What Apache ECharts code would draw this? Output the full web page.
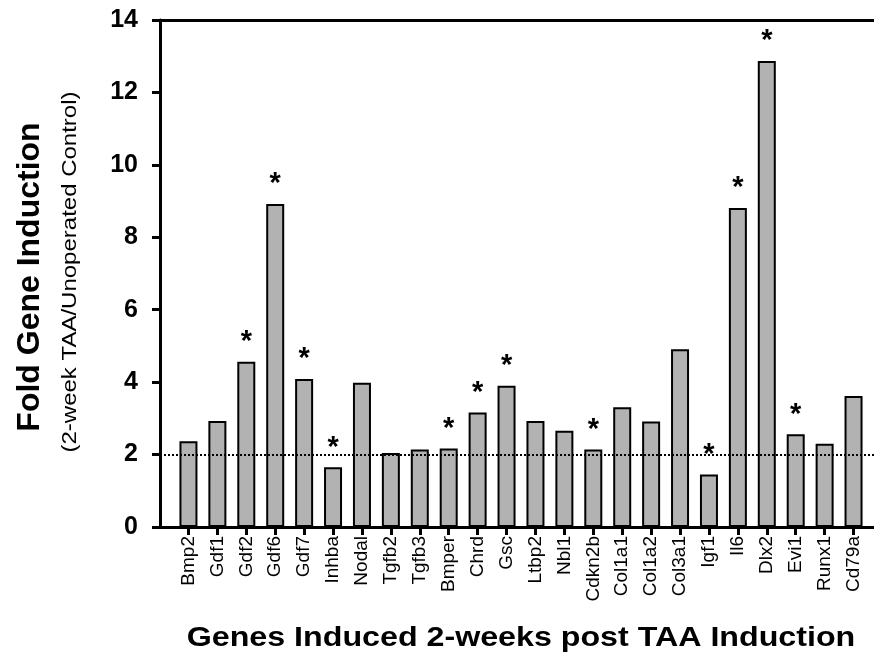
<!DOCTYPE html>
<html>
<head>
<meta charset="utf-8">
<script src="https://cdn.jsdelivr.net/npm/echarts@6/dist/echarts.min.js"></script>
<style>
  html, body { margin: 0; padding: 0; background: #fff; }
  #chart { width: 874px; height: 658px; }
</style>
</head>
<body>
<div id="chart"></div>
<script>
// genes on the x axis
const genes = ["Bmp2", "Gdf1", "Gdf2", "Gdf6", "Gdf7", "Inhba", "Nodal", "Tgfb2", "Tgfb3", "Bmper",
    "Chrd", "Gsc", "Ltbp2", "Nbl1", "Cdkn2b", "Col1a1", "Col1a2", "Col3a1", "Igf1", "Il6",
    "Dlx2", "Evi1", "Runx1", "Cd79a"];
// fold induction
const foldValues = [2.37, 2.93, 4.56, 8.92, 4.09, 1.65, 3.98, 2.04, 2.14, 2.17,
    3.16, 3.90, 2.93, 2.66, 2.14, 3.31, 2.91, 4.91, 1.45, 8.81,
    12.87, 2.56, 2.30, 3.62];
// genes marked with an asterisk
const sigGenes = ["Gdf2", "Gdf6", "Gdf7", "Inhba", "Bmper", "Chrd", "Gsc", "Cdkn2b", "Igf1", "Il6", "Dlx2", "Evi1"];
// y axis ticks
const yTicks = [0, 2, 4, 6, 8, 10, 12, 14];
const baseline = 2;

const font = "'Liberation Sans', Arial, sans-serif";
const yMin = yTicks[0], yMax = yTicks[yTicks.length - 1];

(function () {
    let myChart = echarts.init(document.getElementById('chart'));
    let option = {
        animation: false,
        grid: [
            // 0: bars (categories leave some room by the y axis)
            { left: 174, right: 6, top: 20, bottom: 131 },
            // 1: frame, y axis and dotted line
            { left: 160, right: 0, top: 20, bottom: 131 }
        ],
        xAxis: [{
            type: 'category',
            gridIndex: 0,
            data: genes,
            axisLine: { show: false },
            axisTick: { show: true, alignWithLabel: true, length: 8, lineStyle: { color: '#000', width: 3 } },
            axisLabel: {
                rotate: 90, margin: 9, interval: 0,
                color: '#000', fontFamily: font, fontSize: 19
            }
        }, {
            type: 'value', gridIndex: 1, min: 0, max: 1, position: 'bottom',
            axisLine: { show: true, onZero: false, lineStyle: { color: '#000', width: 3 } },
            axisTick: { show: false }, axisLabel: { show: false }, splitLine: { show: false }
        }, {
            type: 'value', gridIndex: 1, min: 0, max: 1, position: 'top',
            axisLine: { show: true, onZero: false, lineStyle: { color: '#000', width: 3 } },
            axisTick: { show: false }, axisLabel: { show: false }, splitLine: { show: false }
        }],
        yAxis: [{
            type: 'value', gridIndex: 0, min: yMin, max: yMax, interval: 2,
            show: false
        }, {
            type: 'value', gridIndex: 1, min: yMin, max: yMax, interval: 2,
            splitLine: { show: false },
            axisLine: { show: true, lineStyle: { color: '#000', width: 3 } },
            axisTick: { show: true, length: 8, lineStyle: { color: '#000', width: 3 } },
            axisLabel: {
                margin: 22, color: '#000', fontFamily: font,
                fontSize: 25, fontWeight: 'bold'
            }
        }],
        graphic: [{
            type: 'text',
            x: 30, y: 277, rotation: Math.PI / 2,
            style: {
                text: 'Fold Gene Induction', fill: '#000',
                font: 'bold 32px ' + font, align: 'center', verticalAlign: 'middle'
            }
        }, {
            type: 'text',
            x: 70, y: 272, rotation: Math.PI / 2, scaleX: 1.2,
            style: {
                text: '(2-week TAA/Unoperated Control)', fill: '#000',
                font: '20px ' + font, align: 'center', verticalAlign: 'middle'
            }
        }, {
            type: 'text',
            x: 521, y: 638, scaleX: 1.15,
            style: {
                text: 'Genes Induced 2-weeks post TAA Induction', fill: '#000',
                font: 'bold 28px ' + font, align: 'center', verticalAlign: 'middle'
            }
        }],
        series: [{
            // dotted reference line at 2, kept behind the bars
            type: 'line',
            xAxisIndex: 1,
            yAxisIndex: 1,
            data: [],
            z: 1,
            markLine: {
                silent: true,
                symbol: ['none', 'none'],
                label: { show: false },
                lineStyle: { color: '#000', type: 'dotted', width: 2 },
                data: [{ yAxis: baseline }]
            }
        }, {
            type: 'bar',
            xAxisIndex: 0,
            yAxisIndex: 0,
            data: foldValues,
            barWidth: 18,
            z: 3,
            itemStyle: { color: '#b2b2b2', borderColor: '#000', borderWidth: 2 },
            label: {
                show: true,
                position: 'top',
                distance: 5,
                color: '#000',
                fontFamily: font,
                fontSize: 29,
                fontWeight: 'bold',
                formatter: function (p) {
                    return sigGenes.indexOf(genes[p.dataIndex]) >= 0 ? '*' : '';
                }
            }
        }]
    };

    myChart.setOption(option);
    window.addEventListener("resize", function () {
        myChart.resize();
    });
})();
</script>
</body>
</html>
